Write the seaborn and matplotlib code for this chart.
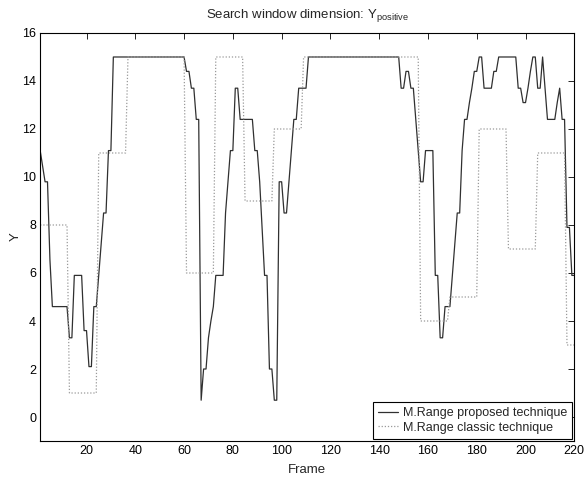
import matplotlib
matplotlib.use('Agg')
import matplotlib.pyplot as plt
import pandas as pd
import seaborn as sns

# frame index and the two search-window curves
frames = list(range(1, 221))

proposed = [
    11.1, 10.45, 9.8, 9.8, 6.55, 4.6, 4.6, 4.6, 4.6, 4.6,
    4.6, 4.6, 3.3, 3.3, 5.9, 5.9, 5.9, 5.9, 3.6, 3.6,
    2.1, 2.1, 4.6, 4.6, 5.9, 7.2, 8.5, 8.5, 11.1, 11.1,
    15, 15, 15, 15, 15, 15, 15, 15, 15, 15,
    15, 15, 15, 15, 15, 15, 15, 15, 15, 15,
    15, 15, 15, 15, 15, 15, 15, 15, 15, 15,
    14.4, 14.4, 13.7, 13.7, 12.4, 12.4, 0.7, 2.0, 2.0, 3.3,
    4.0, 4.6, 5.9, 5.9, 5.9, 5.9, 8.5, 9.8, 11.1, 11.1,
    13.7, 13.7, 12.4, 12.4, 12.4, 12.4, 12.4, 12.4, 11.1, 11.1,
    9.8, 7.85, 5.9, 5.9, 2.0, 2.0, 0.7, 0.7, 9.8, 9.8,
    8.5, 8.5, 9.8, 11.1, 12.4, 12.4, 13.7, 13.7, 13.7, 13.7,
    15, 15, 15, 15, 15, 15, 15, 15, 15, 15,
    15, 15, 15, 15, 15, 15, 15, 15, 15, 15,
    15, 15, 15, 15, 15, 15, 15, 15, 15, 15,
    15, 15, 15, 15, 15, 15, 15, 15, 13.7, 13.7,
    14.4, 14.4, 13.7, 13.7, 12.4, 11.1, 9.8, 9.8, 11.1, 11.1,
    11.1, 11.1, 5.9, 5.9, 3.3, 3.3, 4.6, 4.6, 4.6, 5.9,
    7.2, 8.5, 8.5, 11.1, 12.4, 12.4, 13.1, 13.7, 14.4, 14.4,
    15, 15, 13.7, 13.7, 13.7, 13.7, 14.4, 14.4, 15, 15,
    15, 15, 15, 15, 15, 15, 13.7, 13.7, 13.1, 13.1,
    13.7, 14.4, 15, 15, 13.7, 13.7, 15, 13.7, 12.4, 12.4,
    12.4, 12.4, 13.1, 13.7, 12.4, 12.4, 7.9, 7.9, 5.9, 5.9,
]

classic = [
    8, 8, 8, 8, 8, 8, 8, 8, 8, 8,
    8, 8, 1, 1, 1, 1, 1, 1, 1, 1,
    1, 1, 1, 1, 11, 11, 11, 11, 11, 11,
    11, 11, 11, 11, 11, 11, 15, 15, 15, 15,
    15, 15, 15, 15, 15, 15, 15, 15, 15, 15,
    15, 15, 15, 15, 15, 15, 15, 15, 15, 15,
    6, 6, 6, 6, 6, 6, 6, 6, 6, 6,
    6, 6, 15, 15, 15, 15, 15, 15, 15, 15,
    15, 15, 15, 15, 9, 9, 9, 9, 9, 9,
    9, 9, 9, 9, 9, 9, 12, 12, 12, 12,
    12, 12, 12, 12, 12, 12, 12, 12, 15, 15,
    15, 15, 15, 15, 15, 15, 15, 15, 15, 15,
    15, 15, 15, 15, 15, 15, 15, 15, 15, 15,
    15, 15, 15, 15, 15, 15, 15, 15, 15, 15,
    15, 15, 15, 15, 15, 15, 15, 15, 15, 15,
    15, 15, 15, 15, 15, 15, 4, 4, 4, 4,
    4, 4, 4, 4, 4, 4, 4, 4, 5, 5,
    5, 5, 5, 5, 5, 5, 5, 5, 5, 5,
    12, 12, 12, 12, 12, 12, 12, 12, 12, 12,
    12, 12, 7, 7, 7, 7, 7, 7, 7, 7,
    7, 7, 7, 7, 11, 11, 11, 11, 11, 11,
    11, 11, 11, 11, 11, 11, 3, 3, 3, 3,
]

labels = ['M.Range proposed technique', 'M.Range classic technique']
x_ticks = [20, 40, 60, 80, 100, 120, 140, 160, 180, 200, 220]
y_ticks = [0, 2, 4, 6, 8, 10, 12, 14, 16]

sns.set_style('white')
plt.rcParams['font.family'] = ['Liberation Sans', 'DejaVu Sans']
plt.rcParams['mathtext.fontset'] = 'custom'
plt.rcParams['mathtext.rm'] = 'Liberation Sans'

df_prop = pd.DataFrame({'Frame': frames, 'Y': proposed})
df_class = pd.DataFrame({'Frame': frames, 'Y': classic})

fig = plt.figure(figsize=(5.84, 4.88), dpi=100)
ax = fig.add_axes([0.0688, 0.0963, 0.9146, 0.8361])

sns.lineplot(data=df_prop, x='Frame', y='Y', ax=ax, color='#303030',
             linewidth=0.9, label=labels[0])
sns.lineplot(data=df_class, x='Frame', y='Y', ax=ax, color='#9a9a9a',
             linewidth=0.9, linestyle=(0, (1, 1.5)), label=labels[1])

ax.set_xlim(1, 220)
ax.set_ylim(-1, 16)
ax.set_xticks(x_ticks)
ax.set_yticks(y_ticks)
ax.tick_params(direction='in', top=True, right=True, length=4, width=0.6,
               labelsize=9, colors='black', pad=3)
for sp in ax.spines.values():
    sp.set_color('black')
    sp.set_linewidth(0.8)

ax.set_xlabel('Frame', fontsize=9.5, labelpad=5)
ax.set_ylabel('Y', fontsize=9.5, labelpad=0)
ax.set_title(r'Search window dimension: Y$_{\rm positive}$', fontsize=9.5, pad=11)

leg = ax.legend(loc='lower right', frameon=True, fancybox=False, edgecolor='black',
                framealpha=1, fontsize=9, borderaxespad=0.2, handlelength=1.6,
                handletextpad=0.4, borderpad=0.4, labelspacing=0.2)
leg.get_frame().set_linewidth(0.8)

fig.savefig('out.png', dpi=100)
